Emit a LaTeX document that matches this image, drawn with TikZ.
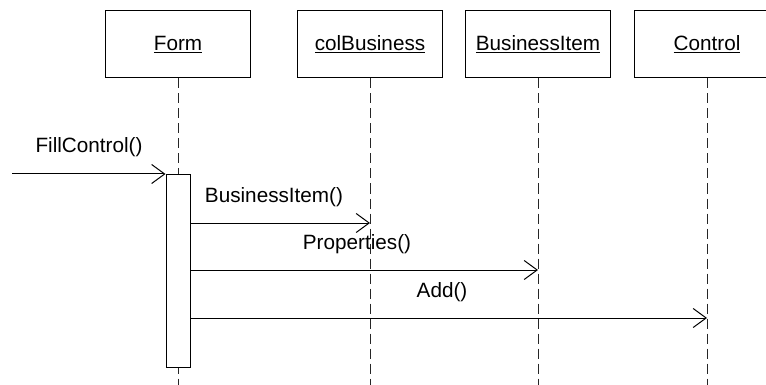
\documentclass[tikz,border=0pt]{standalone}
\usepackage{fontspec}
\setmainfont{Liberation Sans}
\usetikzlibrary{arrows.meta,positioning}

\begin{document}
\begin{tikzpicture}[x=1pt,y=-1pt,
  font=\fontsize{20.7}{24}\selectfont,
  objbox/.style={draw,line width=1pt,minimum width=145pt,minimum height=67pt,inner sep=0pt},
  lifeline/.style={line width=1pt,black!85,dash pattern=on 10pt off 5pt},
  msg/.style={line width=1pt,-{Straight Barb[length=13pt,width=19pt,line width=1pt]}}]
  \useasboundingbox (0,0) rectangle (766,385);
  % Objekte mit Lebenslinien
  \foreach \name/\xc/\txt in {form/178/Form, colbus/370/colBusiness, bitem/538/BusinessItem, control/707/Control}{
    \node[objbox] (\name) at (\xc,44.5) {\underline{\txt}};
    \coordinate (\name-end) at (\xc,385);
    \draw[lifeline] (\name.south) -- (\name-end);
  }
  % Aktivierung von Form
  \node[draw,fill=white,line width=1pt,minimum width=24pt,minimum height=193pt,inner sep=0pt,anchor=north] (act) at (178,174) {};
  % Aufruf von aussen
  \coordinate (caller) at (12,174);
  \draw[msg] (caller) -- (act.north west);
  \node[anchor=base] (fill) at (89,174-21) {FillControl()};
  % Nachrichten von Form
  \foreach \to/\yy/\lx/\txt in {colbus/223/274/BusinessItem(), bitem/270/357/Properties(), control/318/442/Add()}{
    \draw[msg] (act.east |- 0,\yy) -- (\to |- 0,\yy);
    \node[anchor=base] at (\lx,\yy-21) {\txt};
  }
\end{tikzpicture}
\end{document}
